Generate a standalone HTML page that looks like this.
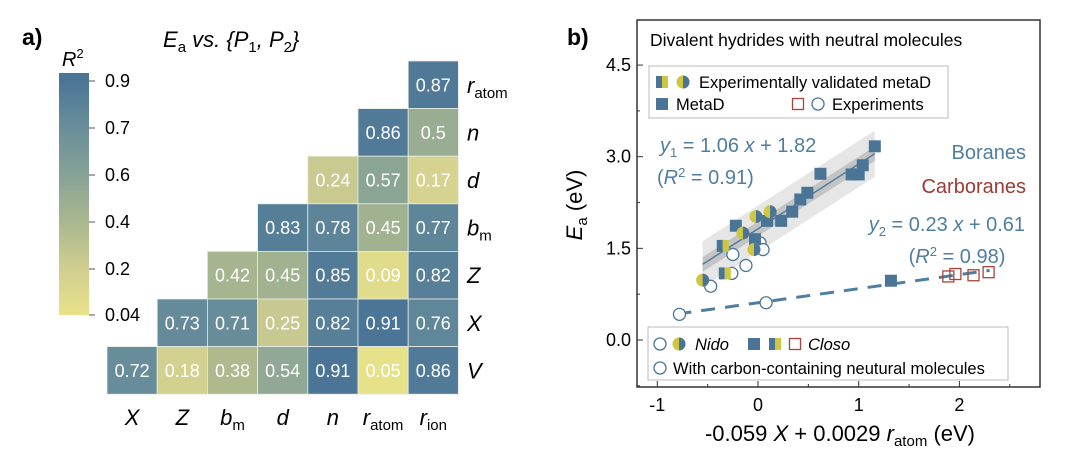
<!DOCTYPE html>
<html><head><meta charset="utf-8">
<style>
html,body{margin:0;padding:0;background:#fff;}
body{width:1080px;height:467px;overflow:hidden;font-family:"Liberation Sans",sans-serif;}
svg text{font-family:"Liberation Sans",sans-serif;}
</style></head>
<body>
<svg id="fig" width="1080" height="467" viewBox="0 0 1080 467" xmlns="http://www.w3.org/2000/svg">
  <g id="panelA"></g>
  <g id="panelB"></g>
</svg>
<script>
// ---------- Panel a data ----------
const colVars = ["X","Z","b","d","n","r","r"];
const colSubs = ["","","m","","","atom","ion"];
const rowVars = ["r","n","d","b","Z","X","V"];
const rowSubs = ["atom","","","m","","",""];
const r2Values = [
  [null,null,null,null,null,null,0.87],
  [null,null,null,null,null,0.86,0.5],
  [null,null,null,null,0.24,0.57,0.17],
  [null,null,null,0.83,0.78,0.45,0.77],
  [null,null,0.42,0.45,0.85,0.09,0.82],
  [null,0.73,0.71,0.25,0.82,0.91,0.76],
  [0.72,0.18,0.38,0.54,0.91,0.05,0.86]
];
const r2Labels = [
  [null,null,null,null,null,null,"0.87"],
  [null,null,null,null,null,"0.86","0.5"],
  [null,null,null,null,"0.24","0.57","0.17"],
  [null,null,null,"0.83","0.78","0.45","0.77"],
  [null,null,"0.42","0.45","0.85","0.09","0.82"],
  [null,"0.73","0.71","0.25","0.82","0.91","0.76"],
  ["0.72","0.18","0.38","0.54","0.91","0.05","0.86"]
];
const cbTicks = [0.9,0.7,0.6,0.4,0.2,0.04];
const cbTickLabels = ["0.9","0.7","0.6","0.4","0.2","0.04"];

// ---------- Panel b data ----------
const metaX = [1.16,1.04,1.0,0.93,0.62,0.49,0.42,0.34,0.23,0.09,-0.03,-0.22,1.32];
const metaY = [3.17,2.86,2.71,2.71,2.72,2.41,2.30,2.10,1.95,1.95,1.65,1.87,0.97];
const halfSqX = [-0.35,-0.33];
const halfSqY = [1.54,1.09];
const halfCirX = [-0.55,-0.15,-0.02,0.12,-0.04];
const halfCirY = [0.98,1.75,2.02,2.10,1.48];
const openCirX = [-0.25,-0.26,-0.12,0.02,0.05,-0.47];
const openCirY = [1.40,1.09,1.22,1.59,1.48,0.88];
const carbCirX = [-0.78,0.08];
const carbCirY = [0.42,0.61];
const closoX = [1.89,1.96,2.14,2.29];
const closoY = [1.04,1.08,1.06,1.11];
const fit1 = [1.06,1.82]; const fit1Range=[-0.55,1.16];
const fit2 = [0.23,0.61]; const fit2Range=[-0.80,2.30];
const xTicks=[-1,0,1,2]; const xTickLabels=["-1","0","1","2"];
const yTicks=[0,1.5,3.0,4.5]; const yTickLabels=["0.0","1.5","3.0","4.5"];

const NS="http://www.w3.org/2000/svg";
function mk(parent,tag,attrs,text){const e=document.createElementNS(NS,tag);for(const k in attrs)e.setAttribute(k,attrs[k]);if(text!==undefined)e.textContent=text;parent.appendChild(e);return e;}

const stops=[[0.04,[232,226,138]],[0.2,[208,207,144]],[0.4,[170,183,142]],[0.6,[134,162,150]],[0.7,[106,142,154]],[0.9,[74,117,150]]];
function colorOf(v){
  if(v<=stops[0][0])return `rgb(${stops[0][1]})`;
  for(let i=1;i<stops.length;i++){if(v<=stops[i][0]){const a=stops[i-1],b=stops[i];const t=(v-a[0])/(b[0]-a[0]);const c=a[1].map((x,j)=>Math.round(x+(b[1][j]-x)*t));return `rgb(${c})`;}}
  return `rgb(${stops[stops.length-1][1]})`;
}
function cbY(v){
  const tv=[0.04,0.2,0.4,0.6,0.7,0.9], ty=[315,269,222,175,128,81];
  for(let i=1;i<tv.length;i++){if(v<=tv[i]){const t=(v-tv[i-1])/(tv[i]-tv[i-1]);return ty[i-1]+(ty[i]-ty[i-1])*t;}}
  return 81;
}

// ---------- Panel A ----------
const A=document.getElementById('panelA');
let t=mk(A,'text',{x:22,y:45,'font-size':23,'font-weight':'bold'},'a)');

t=mk(A,'text',{x:163,y:47,'font-size':22,'font-style':'italic'});

t.innerHTML='E<tspan font-size="15" font-style="normal" dy="5">a</tspan><tspan dy="-5"> vs. {P</tspan><tspan font-size="15" font-style="normal" dy="5">1</tspan><tspan dy="-5">, P</tspan><tspan font-size="15" font-style="normal" dy="5">2</tspan><tspan dy="-5">}</tspan>';
t=mk(A,'text',{x:62,y:66,'font-size':20,'font-style':'italic'});

t.innerHTML='R<tspan font-size="13" font-style="normal" dy="-8">2</tspan>';
const defs=mk(A,'defs',{});
const lg=mk(defs,'linearGradient',{id:'cbg',x1:0,y1:1,x2:0,y2:0});
[0.04,0.1,0.2,0.3,0.4,0.5,0.6,0.65,0.7,0.8,0.9].forEach(v=>{mk(lg,'stop',{offset:((315-cbY(v))/(315-81)*0.967).toFixed(3),'stop-color':colorOf(v)});});
let r=mk(A,'rect',{x:59,y:73,width:30,height:242,fill:'url(#cbg)'});

cbTicks.forEach((v,i)=>{
  const y=cbY(v);
  mk(A,'line',{x1:89,x2:95,y1:y,y2:y,stroke:'#555','stroke-width':1});
  const l=mk(A,'text',{x:105,y:y+6,'font-size':18},cbTickLabels[i]);
  
});
const cx0=107,cw=50.2,cy0=61,ch=47.6;
for(let i=0;i<7;i++)for(let j=0;j<7;j++){
  const v=r2Values[i][j]; if(v===null)continue;
  const c=mk(A,'rect',{x:cx0+j*cw,y:cy0+i*ch,width:cw,height:ch,fill:colorOf(v),stroke:'#e8ebe6','stroke-width':0.8});
  
  const l=mk(A,'text',{x:cx0+j*cw+cw/2,y:cy0+i*ch+ch/2+6.5,'font-size':18,fill:'#fff','text-anchor':'middle'},r2Labels[i][j]);
  
}
function varLabel(parent,x,y,v,s,anchor){
  const e=mk(parent,'text',{x:x,y:y,'font-size':22,'font-style':'italic','text-anchor':anchor});
  e.innerHTML=v+(s?`<tspan font-size="15" font-style="normal" dy="5">${s}</tspan>`:'');
  return e;
}
colVars.forEach((v,j)=>{const e=varLabel(A,cx0+j*cw+cw/2,425,v,colSubs[j],'middle');});
rowVars.forEach((v,i)=>{const e=varLabel(A,467,cy0+i*ch+ch/2+8,v,rowSubs[i],'start');});

// ---------- Panel B ----------
const B=document.getElementById('panelB');
const px0=637,px1=1040,py0=20,py1=387;
const X=v=>758+v*100.7, Y=v=>340-v*61.1;
t=mk(B,'text',{x:567,y:45,'font-size':23,'font-weight':'bold'},'b)');

r=mk(B,'rect',{x:px0,y:py0,width:px1-px0,height:py1-py0,fill:'none',stroke:'#333','stroke-width':1.5});

yTicks.forEach((v,i)=>{
  mk(B,'line',{x1:px0,x2:px0+6,y1:Y(v),y2:Y(v),stroke:'#333'});
  const m=v+0.75; if(m<4.9) mk(B,'line',{x1:px0,x2:px0+3,y1:Y(m),y2:Y(m),stroke:'#333'});
  const l=mk(B,'text',{x:px0-6,y:Y(v)+6,'font-size':18,'text-anchor':'end'},yTickLabels[i]);
  
});
mk(B,'line',{x1:px0,x2:px0+3,y1:Y(-0.75),y2:Y(-0.75),stroke:'#333'});
xTicks.forEach((v,i)=>{
  mk(B,'line',{x1:X(v),x2:X(v),y1:py1,y2:py1-6,stroke:'#333'});
  mk(B,'line',{x1:X(v+0.5),x2:X(v+0.5),y1:py1,y2:py1-3,stroke:'#333'});
  const l=mk(B,'text',{x:X(v),y:411,'font-size':18,'text-anchor':'middle'},xTickLabels[i]);
  
});
t=mk(B,'text',{x:840,y:441,'font-size':22,'text-anchor':'middle'});

t.innerHTML='-0.059 <tspan font-style="italic">X</tspan> + 0.0029 <tspan font-style="italic">r</tspan><tspan font-size="15" dy="5">atom</tspan><tspan dy="-5"> (eV)</tspan>';
t=mk(B,'text',{x:0,y:0,'font-size':22,'text-anchor':'middle',transform:'translate(582,205) rotate(-90)'});

t.innerHTML='<tspan font-style="italic">E</tspan><tspan font-size="15" dy="5">a</tspan><tspan dy="-5"> (eV)</tspan>';
t=mk(B,'text',{x:650,y:46,'font-size':17.5},'Divalent hydrides with neutral molecules');


function band(w,fill,name){
  const [a,b]=fit1Range,[k,c]=fit1;
  const p=`${X(a)},${Y(k*a+c+w)} ${X(b)},${Y(k*b+c+w)} ${X(b)},${Y(k*b+c-w)} ${X(a)},${Y(k*a+c-w)}`;
  const e=mk(B,'polygon',{points:p,fill:fill});
}
band(0.38,'#e6e6e6','prediction-band');
band(0.12,'#c4c4c4','confidence-band');
let ln=mk(B,'line',{x1:X(fit1Range[0]),y1:Y(fit1[0]*fit1Range[0]+fit1[1]),x2:X(fit1Range[1]),y2:Y(fit1[0]*fit1Range[1]+fit1[1]),stroke:'#4f7ea0','stroke-width':1.5});

ln=mk(B,'line',{x1:X(fit2Range[0]),y1:Y(fit2[0]*fit2Range[0]+fit2[1]),x2:X(fit2Range[1]),y2:Y(fit2[0]*fit2Range[1]+fit2[1]),stroke:'#4f7ea0','stroke-width':3,'stroke-dasharray':'14,10'});


const BL='#4a7596',YL='#cfc640',RD='#a8443c';
function sq(x,y,name){const e=mk(B,'rect',{x:x-6,y:y-6,width:12,height:12,fill:BL});}
function hsq(x,y,name){const g=mk(B,'g',{});mk(g,'rect',{x:x-6,y:y-6,width:6,height:12,fill:BL});mk(g,'rect',{x:x,y:y-6,width:6,height:12,fill:YL});}
function hcir(x,y,name){const g=mk(B,'g',{});mk(g,'circle',{cx:x,cy:y,r:6.5,fill:YL});mk(g,'path',{d:`M${x},${y-6.5} A6.5,6.5 0 0 1 ${x},${y+6.5} Z`,fill:BL});}
function ocir(x,y,name){const e=mk(B,'circle',{cx:x,cy:y,r:6,fill:'#fff',stroke:BL,'stroke-width':1.3});}
function osq(x,y,name){const e=mk(B,'rect',{x:x-5.5,y:y-5.5,width:11,height:11,fill:'none',stroke:RD,'stroke-width':1.3});}

openCirX.forEach((v,i)=>ocir(X(v),Y(openCirY[i]),'nido-experiment-point'));
carbCirX.forEach((v,i)=>ocir(X(v),Y(carbCirY[i]),'carbon-molecule-point'));
metaX.forEach((v,i)=>sq(X(v),Y(metaY[i]),'metad-point'));
halfSqX.forEach((v,i)=>hsq(X(v),Y(halfSqY[i]),'validated-closo-point'));
halfCirX.forEach((v,i)=>hcir(X(v),Y(halfCirY[i]),'validated-nido-point'));
closoX.forEach((v,i)=>osq(X(v),Y(closoY[i]),'closo-experiment-point'));

const BT='#4f7ea0';
t=mk(B,'text',{x:660,y:152,'font-size':20,fill:BT});
t.innerHTML='<tspan font-style="italic">y</tspan><tspan font-size="13" dy="5">1</tspan><tspan dy="-5">  = 1.06 </tspan><tspan font-style="italic">x</tspan> + 1.82';
t=mk(B,'text',{x:657,y:184,'font-size':20,fill:BT});
t.innerHTML='(<tspan font-style="italic">R</tspan><tspan font-size="13" dy="-7">2</tspan><tspan dy="7"> = 0.91)</tspan>';
t=mk(B,'text',{x:1026,y:159,'font-size':20,fill:BT,'text-anchor':'end'},'Boranes');
t=mk(B,'text',{x:1026,y:193,'font-size':20,fill:'#9a3b33','text-anchor':'end'},'Carboranes');
t=mk(B,'text',{x:1025,y:231,'font-size':20,fill:BT,'text-anchor':'end'});
t.innerHTML='<tspan font-style="italic">y</tspan><tspan font-size="13" dy="5">2</tspan><tspan dy="-5"> = 0.23 </tspan><tspan font-style="italic">x</tspan> + 0.61';
t=mk(B,'text',{x:957,y:263,'font-size':20,fill:BT,'text-anchor':'middle'});
t.innerHTML='(<tspan font-style="italic">R</tspan><tspan font-size="13" dy="-7">2</tspan><tspan dy="7"> = 0.98)</tspan>';

let lgd=mk(B,'g',{});
mk(lgd,'rect',{x:649,y:66,width:299,height:52,fill:'#fff',stroke:'#bbb','stroke-width':1});
hsq(662,82,'legend-validated-square');hcir(683,82,'legend-validated-circle');sq(662,104,'legend-metad-square');osq(798,104,'legend-closo-square');ocir(818,104,'legend-circle');
t=mk(B,'text',{x:699,y:88,'font-size':16.5},'Experimentally validated metaD');
t=mk(B,'text',{x:676,y:110,'font-size':16.5},'MetaD');
t=mk(B,'text',{x:832,y:110,'font-size':16.5},'Experiments');
lgd=mk(B,'g',{});
mk(lgd,'rect',{x:648,y:327,width:360,height:53,fill:'#fff',stroke:'#bbb','stroke-width':1});
ocir(660,344,'legend-nido-circle');hcir(679,344,'legend-nido-half');sq(754,344,'legend-closo-metad');hsq(775,344,'legend-closo-half');osq(795,344,'legend-closo-open');
ocir(660,368,'legend-carbon-circle');
t=mk(B,'text',{x:695,y:350,'font-size':16.5,'font-style':'italic'},'Nido');
t=mk(B,'text',{x:808,y:350,'font-size':16.5,'font-style':'italic'},'Closo');
t=mk(B,'text',{x:673,y:374,'font-size':16.5},'With carbon-containing neutural molecules');
</script>
</body></html>
